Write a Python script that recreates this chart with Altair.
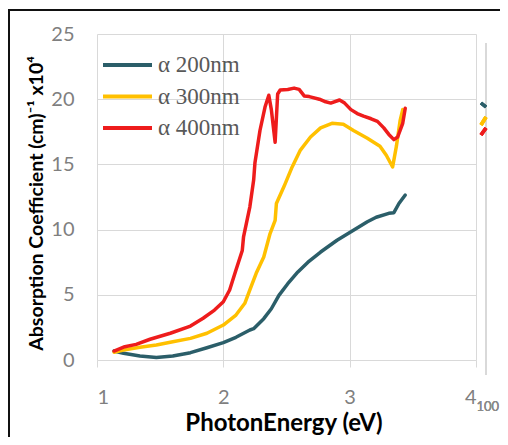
import altair as alt
import pandas as pd

series_names = ["α 200nm", "α 300nm", "α 400nm"]
series_colors = ["#2B5E69", "#FFC000", "#EE1C1C"]

x_200 = [1.135, 1.21, 1.34, 1.47, 1.60, 1.74, 1.87, 2.00, 2.10, 2.21, 2.24, 2.32, 2.38, 2.44,
         2.51, 2.59, 2.67, 2.77, 2.90, 3.03, 3.14, 3.21, 3.31, 3.35, 3.39, 3.44]
y_200 = [0.69, 0.51, 0.31, 0.20, 0.31, 0.56, 0.94, 1.33, 1.74, 2.30, 2.40, 3.17, 3.93, 4.96,
         5.85, 6.75, 7.50, 8.28, 9.18, 9.95, 10.6, 10.95, 11.25, 11.3, 12.0, 12.65]

x_300 = [1.135, 1.21, 1.34, 1.47, 1.60, 1.74, 1.87, 2.00, 2.10, 2.17, 2.21, 2.26, 2.32, 2.37,
         2.41, 2.42, 2.48, 2.54, 2.61, 2.69, 2.77, 2.86, 2.95, 3.03, 3.14, 3.24, 3.29, 3.34,
         3.37, 3.40, 3.42]
y_300 = [0.60, 0.77, 0.97, 1.15, 1.40, 1.66, 2.05, 2.68, 3.45, 4.35, 5.37, 6.65, 7.90, 9.70,
         10.7, 12.0, 13.3, 14.7, 16.1, 17.1, 17.8, 18.15, 18.07, 17.6, 17.0, 16.4, 15.7, 14.8,
         16.4, 18.4, 19.2]

x_400 = [1.135, 1.22, 1.31, 1.42, 1.58, 1.74, 1.84, 1.93, 2.00, 2.05, 2.10, 2.15, 2.16, 2.21,
         2.24, 2.25, 2.29, 2.33, 2.36, 2.38, 2.41, 2.43, 2.45, 2.51, 2.56, 2.60, 2.64, 2.68,
         2.76, 2.81, 2.85, 2.92, 2.96, 3.01, 3.06, 3.11, 3.17, 3.22, 3.27, 3.31, 3.35, 3.38,
         3.42, 3.44]
y_400 = [0.69, 1.02, 1.20, 1.59, 2.05, 2.60, 3.20, 3.83, 4.47, 5.37, 6.90, 8.40, 9.45, 11.75,
         13.8, 15.1, 17.6, 19.4, 20.3, 19.2, 16.7, 20.4, 20.7, 20.75, 20.85, 20.75, 20.25, 20.2,
         20.0, 19.8, 19.7, 19.94, 19.7, 19.2, 18.9, 18.7, 18.5, 18.3, 17.8, 17.3, 16.9, 17.1,
         18.15, 19.3]

x_ticks = [1, 2, 3, 4]
y_ticks = [0, 5, 10, 15, 20, 25]

rows = []
for name, xs, ys in zip(series_names, [x_200, x_300, x_400], [y_200, y_300, y_400]):
    for i, (xv, yv) in enumerate(zip(xs, ys)):
        rows.append({"series": name, "energy": xv, "alpha": yv, "order": i})
df = pd.DataFrame(rows)
legend_df = pd.DataFrame({"series": series_names})

W, H = 379, 326
PL, PT, PR, PB = 89, 26, 24, 77

color = alt.Color("series:N", scale=alt.Scale(domain=series_names, range=series_colors), legend=None)

lines = alt.Chart(df).mark_line(strokeWidth=3.5, strokeJoin="round", strokeCap="round").encode(
    x=alt.X("energy:Q", scale=alt.Scale(domain=[1, 4], nice=False, zero=False),
            axis=alt.Axis(values=x_ticks, title="PhotonEnergy (eV)", grid=True, gridColor="#d9d9d9",
                          domain=False, ticks=True, tickSize=7, tickColor="#d9d9d9",
                          labelPadding=20, labelFont="Lato", labelFontSize=20, labelColor="#7f7f7f",
                          titleFont="Lato", titleFontSize=24, titleFontWeight="bold", titleColor="#000000",
                          titleX=W / 2 - 3, titleY=63, titleBaseline="middle", titleAlign="center")),
    y=alt.Y("alpha:Q", scale=alt.Scale(domain=[0, 25], nice=False),
            axis=alt.Axis(values=y_ticks, title="Absorption Coefficient (cm)⁻¹ x10⁴", grid=True,
                          gridColor="#d9d9d9", domain=False, ticks=False, tickSize=0,
                          labelPadding=23, labelFont="Lato", labelFontSize=20, labelColor="#7f7f7f",
                          titleFont="Lato", titleFontSize=19.5, titleFontWeight="bold", titleColor="#000000",
                          titleAngle=270, titleX=-61, titleY=169, titleBaseline="middle", titleAlign="center")),
    color=color,
    order="order:Q",
)

leg_y = alt.Y("series:N", axis=None, scale=alt.Scale(type="point", domain=series_names, range=[31, 94], padding=0))

legend_lines = alt.Chart(legend_df).mark_rule(strokeWidth=4).encode(
    x=alt.value(6), x2=alt.value(55), y=leg_y, color=color
)
legend_text = alt.Chart(legend_df).mark_text(
    align="left", baseline="middle", font="Liberation Serif", fontSize=23, color="#595959"
).encode(x=alt.value(61), y=leg_y, text="series:N")

border_top = alt.Chart(legend_df).mark_rule(color="#111111", strokeWidth=2).encode(
    x=alt.value(-PL), x2=alt.value(W + PR), y=alt.value(-24)
)
border_left = alt.Chart(legend_df).mark_rule(color="#111111", strokeWidth=2).encode(
    x=alt.value(-88), y=alt.value(-24), y2=alt.value(H + PB)
)
side_axis = alt.Chart(legend_df).mark_rule(color="#d9d9d9", strokeWidth=1.5).encode(
    x=alt.value(389), y=alt.value(9), y2=alt.value(341)
)
stub_teal = alt.Chart(legend_df).mark_rule(color=series_colors[0], strokeWidth=3.5).encode(
    x=alt.value(384), x2=alt.value(389), y=alt.value(69), y2=alt.value(73)
)
stub_yellow = alt.Chart(legend_df).mark_rule(color=series_colors[1], strokeWidth=3.5).encode(
    x=alt.value(384), x2=alt.value(389), y=alt.value(91), y2=alt.value(83)
)
stub_red = alt.Chart(legend_df).mark_rule(color=series_colors[2], strokeWidth=3.5).encode(
    x=alt.value(384), x2=alt.value(389), y=alt.value(101), y2=alt.value(94)
)
side_text = alt.Chart(legend_df).mark_text(
    align="right", baseline="middle", font="Lato", fontSize=13, color="#8a8a8a", text="100"
).encode(x=alt.value(W + PR - 1), y=alt.value(H + 47))

chart = alt.layer(
    lines, legend_lines, legend_text, border_top, border_left, side_axis,
    stub_teal, stub_yellow, stub_red, side_text
).resolve_scale(y="independent").properties(
    width=W, height=H,
    padding={"left": PL, "top": PT, "right": PR, "bottom": PB},
    autosize=alt.AutoSizeParams(type="none"),
).configure_view(stroke=None)

chart.save("out.html", embed_options={"renderer": "svg", "actions": False})
